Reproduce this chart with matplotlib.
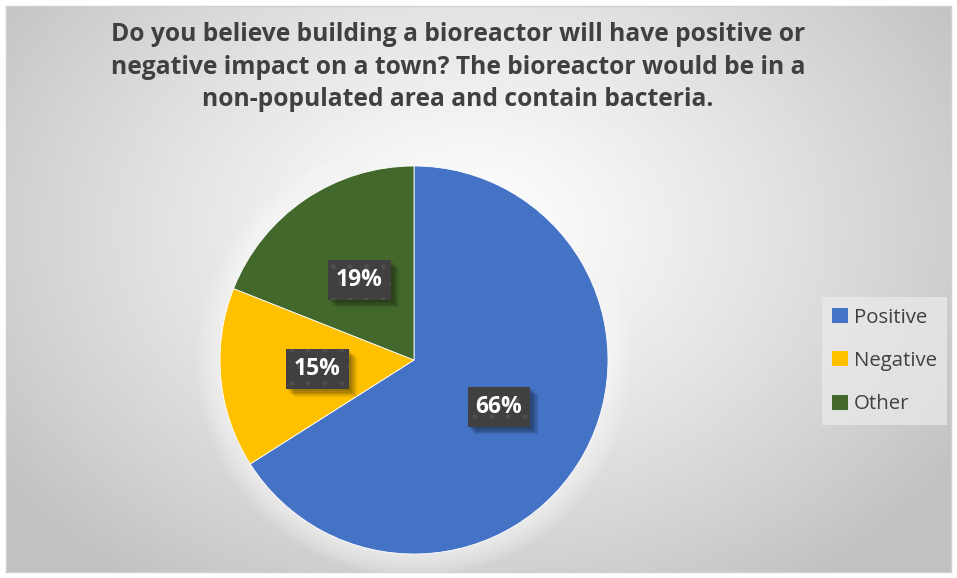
import matplotlib.pyplot as plt
import matplotlib.patheffects as pe
from matplotlib.patches import Circle
import numpy as np

# Survey answers
categories = ["Positive", "Negative", "Other"]
shares = [66, 15, 19]
colors = ["#4472c4", "#ffc000", "#43682b"]
title = ("Do you believe building a bioreactor will have positive or\n"
         "negative impact on a town? The bioreactor would be in a\n"
         "non-populated area and contain bacteria.")

W, H = 957, 578
fig = plt.figure(figsize=(W / 100, H / 100), dpi=100)
fig.patch.set_facecolor("white")

# radial gradient backdrop inside the chart frame
x0, y0, x1, y1 = 6, 6, 951, 572
bg = fig.add_axes([x0 / W, 1 - y1 / H, (x1 - x0) / W, (y1 - y0) / H])
gx, gy = np.meshgrid(np.linspace(x0, x1, 400), np.linspace(y0, y1, 250))
d = np.hypot((gx - 470) / 560, (gy - 230) / 420)
shade = np.clip(1.0 - 0.23 * d ** 1.2, 0.76, 1.0)
bg.imshow(np.dstack([shade] * 3), aspect="auto", extent=[0, 1, 0, 1],
          interpolation="bilinear")
bg.set_xticks([])
bg.set_yticks([])
for s in bg.spines.values():
    s.set_color("#d0d0d0")
    s.set_linewidth(1)

# title
fig.text(458 / W, 1 - 67 / H, title, ha="center", va="center",
         fontsize=17.7, fontweight="bold", color="#404040",
         family="Open Sans", linespacing=1.42)

# pie, with a soft white glow around it
cx, cy, r = 414, 360, 194
m = 1.15
ax = fig.add_axes([(cx - r * m) / W, 1 - (cy + r * m) / H,
                   2 * r * m / W, 2 * r * m / H])
ax.set_aspect("equal")
ax.axis("off")
for k in np.linspace(1.12, 1.0, 10):
    ax.add_patch(Circle((0, 0), k, facecolor="white", edgecolor="none",
                        alpha=0.08, zorder=0))
label_font = dict(fontsize=16.5, fontweight="bold", family="Open Sans")
wedges, _, autotexts = ax.pie(
    shares, colors=colors, startangle=90, counterclock=False,
    autopct="%d%%", pctdistance=0.5, radius=1,
    wedgeprops=dict(edgecolor="white", linewidth=0.6),
    textprops=dict(color="white", **label_font))
box = "square,pad=0.35"
for t in autotexts:
    # blurred drop shadow drawn from an invisible copy of the label
    x, y = t.get_position()
    sh = ax.text(x, y, t.get_text(), ha="center", va="center", color="none",
                 zorder=t.get_zorder() - 0.5, **label_font)
    sh.set_bbox(dict(boxstyle=box, facecolor="black", edgecolor="none",
                     linewidth=0))
    sh.get_bbox_patch().set_path_effects(
        [pe.SimplePatchShadow(offset=(o, -o), alpha=0.09,
                              shadow_rgbFace="black")
         for o in (1.5, 2.5, 3.5, 4.5, 5.5)])
    t.set_bbox(dict(boxstyle=box, facecolor="#404040",
                    edgecolor="#4f4f4f", hatch=".", linewidth=0))
ax.set_xlim(-m, m)
ax.set_ylim(-m, m)

# legend
leg = fig.legend(wedges, categories, loc="center left",
                 bbox_to_anchor=(822 / W, 1 - 361 / H), frameon=True,
                 fancybox=False, handlelength=0.75, handleheight=0.75,
                 handletextpad=0.3, labelspacing=1.15, borderpad=0.5,
                 borderaxespad=0,
                 prop=dict(family="Open Sans", size=14.7))
leg.get_frame().set_facecolor("#ebebeb")
leg.get_frame().set_edgecolor("none")
leg.get_frame().set_alpha(0.7)
for txt in leg.get_texts():
    txt.set_color("#404040")
for h in leg.legend_handles:
    h.set_path_effects([])
    h.set_edgecolor("none")

fig.savefig("out.png", dpi=100)
